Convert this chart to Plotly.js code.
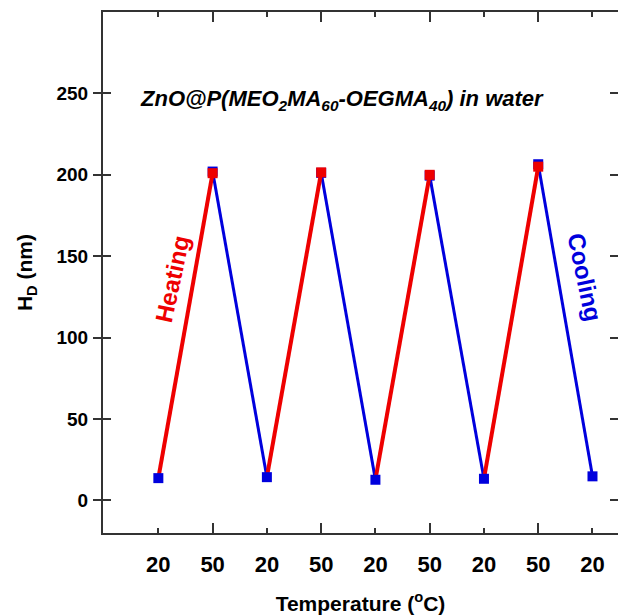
<!DOCTYPE html>
<html>
<head>
<meta charset="utf-8">
<script src="https://cdn.plot.ly/plotly-3.0.1.min.js"></script>
<style>html,body{margin:0;padding:0;background:#fff;}#chart{width:618px;height:616px;}</style>
</head>
<body>
<div id="chart"></div>
<script>
// Tick labels (temperature steps, °C)
const tempLabels = ['20', '50', '20', '50', '20', '50', '20', '50', '20'];
// Hydrodynamic diameter at 20 °C (cooling end points)
const low20 = [13.7, 14.3, 12.7, 13.3, 14.8];
// Hydrodynamic diameter at 50 °C, heating (red) and cooling start (blue)
const heat50 = [201.0, 201.5, 200.0, 205.0];
const cool50 = [202.0, 201.2, 199.5, 206.5];

const pos = tempLabels.map((_, i) => i);
const pos20 = pos.filter(i => i % 2 === 0);
const pos50 = pos.filter(i => i % 2 === 1);

// Heating segments: 20 -> 50
const hx = [], hy = [];
for (let k = 0; k < heat50.length; k++) {
  hx.push(pos20[k], pos50[k], null);
  hy.push(low20[k], heat50[k], null);
}
// Cooling segments: 50 -> 20
const cx = [], cy = [];
for (let k = 0; k < cool50.length; k++) {
  cx.push(pos50[k], pos20[k + 1], null);
  cy.push(cool50[k], low20[k + 1], null);
}

const RED = '#ee0000';
const BLUE = '#0000dd';
const FONT = 'Arial, "Liberation Sans", sans-serif';
const XRANGE = [-1.02, 8.47];

const traces = [
  {x: pos50, y: cool50, mode: 'markers', type: 'scatter',
   marker: {symbol: 'square', size: 10, color: BLUE}, hoverinfo: 'none'},
  {x: cx, y: cy, mode: 'lines', type: 'scatter',
   line: {color: BLUE, width: 3}, connectgaps: false, hoverinfo: 'none'},
  {x: hx, y: hy, mode: 'lines', type: 'scatter',
   line: {color: RED, width: 4}, connectgaps: false, hoverinfo: 'none'},
  {x: pos50, y: heat50, mode: 'markers', type: 'scatter',
   marker: {symbol: 'square', size: 10, color: RED}, hoverinfo: 'none'},
  {x: pos20, y: low20, mode: 'markers', type: 'scatter',
   marker: {symbol: 'square', size: 10, color: BLUE}, hoverinfo: 'none'},
  // invisible trace to activate the long-tick overlay axis
  {x: [pos50[0]], y: [null], xaxis: 'x2', yaxis: 'y', mode: 'markers', type: 'scatter',
   marker: {opacity: 0}, hoverinfo: 'none'}
];

const layout = {
  width: 618, height: 616,
  margin: {l: 103, r: 0, t: 12, b: 83},
  paper_bgcolor: '#fff', plot_bgcolor: '#fff',
  showlegend: false,
  font: {family: FONT, color: '#000'},
  xaxis: {
    range: XRANGE,
    tickmode: 'array', tickvals: pos, ticktext: tempLabels,
    ticks: 'inside', ticklen: 5, tickwidth: 2, tickcolor: '#333',
    showline: true, linecolor: '#333', linewidth: 2, mirror: 'allticks',
    showgrid: false, zeroline: false,
    tickfont: {family: FONT, size: 22, color: '#000', weight: 'bold'},
    ticklabelstandoff: 11,
    title: {text: '<b>Temperature (<sup>o</sup>C)</b>', font: {family: FONT, size: 21, color: '#000'}, standoff: 20}
  },
  xaxis2: {
    overlaying: 'x', side: 'bottom', anchor: 'y',
    range: XRANGE,
    tickmode: 'array', tickvals: pos50, showticklabels: false,
    ticks: 'inside', ticklen: 10, tickwidth: 2, tickcolor: '#333',
    showline: false, mirror: 'ticks', linecolor: '#333',
    showgrid: false, zeroline: false
  },
  yaxis: {
    range: [-20, 300],
    tickvals: [0, 50, 100, 150, 200, 250],
    ticks: 'inside', ticklen: 8, tickwidth: 2, tickcolor: '#333',
    showline: true, linecolor: '#333', linewidth: 2, mirror: 'allticks',
    showgrid: false, zeroline: false,
    tickfont: {family: FONT, size: 19, color: '#000', weight: 'bold'},
    ticklabelstandoff: 9,
    title: {text: '<b>H<sub>D</sub> (nm)</b>', font: {family: FONT, size: 21, color: '#000'}, standoff: 18}
  },
  annotations: [
    {x: -0.37, y: 246, xref: 'x', yref: 'y', xanchor: 'left', yanchor: 'middle', showarrow: false,
     text: '<b><i>ZnO@P(MEO<sub>2</sub>MA<sub>60</sub>-OEGMA<sub>40</sub>) in water</i></b>',
     font: {family: FONT, size: 22, color: '#000'}},
    {x: 0.25, y: 136, xref: 'x', yref: 'y', showarrow: false, textangle: -78,
     text: '<b>Heating</b>', font: {family: FONT, size: 24, color: RED}},
    {x: 7.86, y: 137, xref: 'x', yref: 'y', showarrow: false, textangle: 78,
     text: '<b>Cooling</b>', font: {family: FONT, size: 24, color: BLUE}}
  ]
};

Plotly.newPlot('chart', traces, layout, {staticPlot: true, displayModeBar: false});
</script>
</body>
</html>
